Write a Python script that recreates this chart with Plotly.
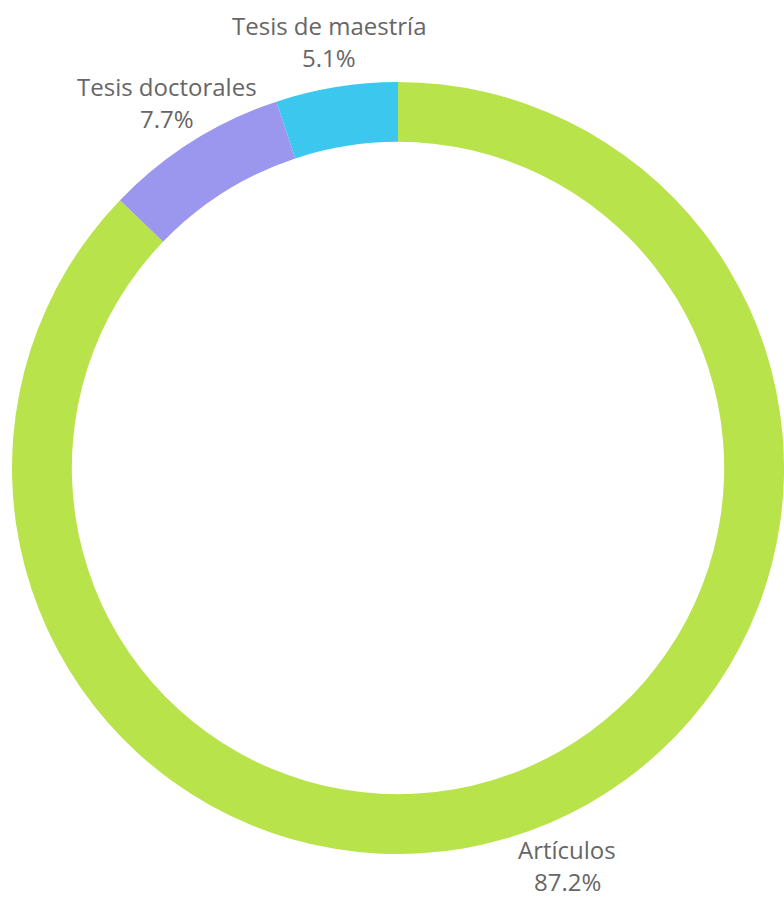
import math
import plotly.graph_objects as go

# Distribution of publication types
categories = ["Artículos", "Tesis doctorales", "Tesis de maestría"]
shares = [87.2, 7.7, 5.1]
colors = ["#B8E34B", "#9B96EE", "#3CC8EE"]

W, H = 784, 902
M = dict(l=12, r=0, t=81, b=47)
plot_w = W - M["l"] - M["r"]
plot_h = H - M["t"] - M["b"]
radius = min(plot_w, plot_h) / 2
label_dist = 1.12 * radius  # labels sit outside the ring

fig = go.Figure(
    go.Pie(
        labels=categories,
        values=shares,
        textinfo="none",
        hole=0.845,
        sort=False,
        direction="clockwise",
        rotation=0,
        marker=dict(colors=colors, line=dict(width=0)),
        showlegend=False,
        hoverinfo="label+percent",
    )
)

# Outside labels at each slice's mid-angle (clockwise from 12 o'clock)
total = sum(shares)
cum = 0.0
label_font = dict(family="Open Sans", size=24, color="#666666")
for name, val in zip(categories, shares):
    mid = (cum + val / 2) / total * 2 * math.pi
    cum += val
    dx = label_dist * math.sin(mid)
    dy = label_dist * math.cos(mid)
    xp = 0.5 + dx / plot_w
    yp = 0.5 + dy / plot_h
    fig.add_annotation(x=xp, y=yp, xref="paper", yref="paper", text=name,
                       showarrow=False, font=label_font, yshift=16,
                       xanchor="center", yanchor="middle")
    fig.add_annotation(x=xp, y=yp, xref="paper", yref="paper", text=f"{val:.1f}%",
                       showarrow=False, font=label_font, yshift=-16,
                       xanchor="center", yanchor="middle")

fig.update_layout(
    width=W,
    height=H,
    margin=M,
    paper_bgcolor="white",
    plot_bgcolor="white",
)

fig.write_html("out.html")
